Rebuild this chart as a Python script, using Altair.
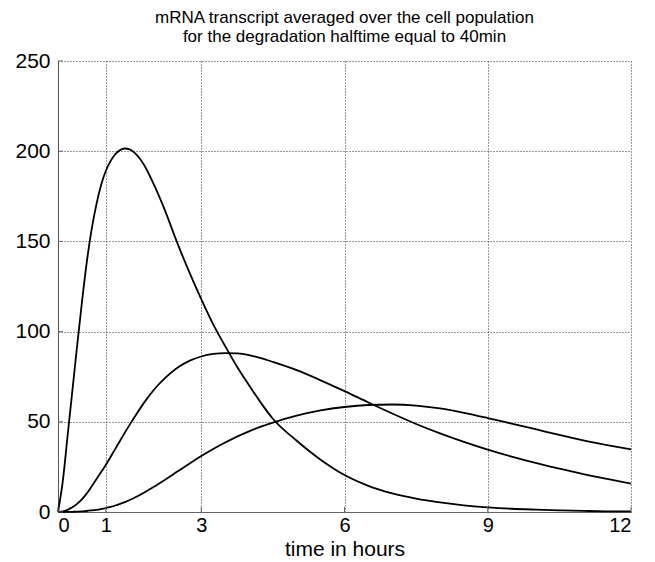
import altair as alt
import pandas as pd

# time grid (hours)
t_vals = [0, 0.1, 0.2, 0.3, 0.4, 0.5, 0.6, 0.7, 0.8, 0.9, 1.0, 1.1, 1.2, 1.3, 1.4,
          1.5, 1.6, 1.8, 2.0, 2.25, 2.5, 2.75, 3.0, 3.25, 3.5, 3.75, 4.0, 4.25,
          4.5, 5.0, 5.5, 6.0, 6.5, 7.0, 7.5, 8.0, 8.5, 9.0, 9.5, 10.0, 10.5,
          11.0, 11.5, 12.0]

# fast curve (high peak)
fast = [0, 17, 42, 67, 92, 116, 138, 156, 170, 181, 189, 194.5, 198.3, 200.6, 201.5,
        201, 199.2, 192.5, 182, 166.5, 149, 133, 118, 104, 92, 80.5, 70.3, 60.5,
        51.7, 39.5, 29, 20.5, 14.5, 10.3, 7.4, 5.3, 3.7, 2.6, 1.8, 1.3, 0.9,
        0.6, 0.4, 0.3]

# medium curve
medium = [0, 0.3, 1.2, 2.6, 4.5, 7, 10.2, 14, 18, 22, 26, 30.5, 35, 39.5, 44,
          48.3, 52.5, 60.5, 67.5, 74.5, 80, 83.8, 86.2, 87.6, 88.1, 87.9, 87, 85.3,
          83.2, 78.6, 73, 67, 60.7, 54.6, 48.8, 43.6, 38.9, 34.6, 30.7, 27.2, 24,
          21, 18.3, 15.7]

# slow curve
slow = [0, 0.01, 0.04, 0.1, 0.2, 0.35, 0.55, 0.85, 1.2, 1.65, 2.2, 2.85, 3.6, 4.5, 5.5,
        6.65, 7.9, 10.7, 13.8, 18.0, 22.4, 26.8, 31.0, 34.9, 38.5, 41.8, 44.7, 47.3,
        49.6, 53.4, 56.3, 58.2, 59.3, 59.6, 59.0, 57.4, 55.0, 52.1, 49.0, 45.9, 42.7,
        39.7, 37.1, 34.7]

x_ticks = [0, 1, 3, 6, 9, 12]
y_ticks = [0, 50, 100, 150, 200, 250]

rows = []
for name, vals in [("fast", fast), ("medium", medium), ("slow", slow)]:
    for t, v in zip(t_vals, vals):
        rows.append({"series": name, "t": t, "v": v})
df = pd.DataFrame(rows)

W, H = 573, 451
FONT = "Liberation Sans"

xscale = alt.Scale(domain=[0, 12], nice=False, zero=False)
yscale = alt.Scale(domain=[0, 250], nice=False, zero=False)

xaxis = alt.Axis(values=x_ticks, grid=True, gridDash=[1, 2], gridColor="#333",
                 gridOpacity=1, gridWidth=1, domainColor="#666", domainWidth=1,
                 ticks=False, labelFont=FONT, labelFontSize=20, labelColor="black",
                 labelPadding=3, titleFont=FONT, titleFontSize=21,
                 titleFontWeight="normal", titleColor="black",
                 titleBaseline="alphabetic", titleY=43)
yaxis = alt.Axis(values=y_ticks, grid=True, gridDash=[1, 2], gridColor="#333",
                 gridOpacity=1, gridWidth=1, domainColor="#555", domainWidth=1,
                 ticks=False, labelFont=FONT, labelFontSize=21, labelColor="black",
                 labelPadding=8, title=None)

X = alt.X("t:Q", scale=xscale, axis=xaxis, title="time in hours")
Y = alt.Y("v:Q", scale=yscale, axis=yaxis, title=None)

lines = alt.Chart(df).mark_line(interpolate="monotone", color="black",
                                strokeWidth=1.8).encode(
    x=X, y=Y, detail="series:N")

ytick_marks = alt.Chart(pd.DataFrame({"v": y_ticks})).mark_rule(
    color="#666", strokeWidth=1).encode(y=Y, x=alt.value(0), x2=alt.value(5))
xtick_marks = alt.Chart(pd.DataFrame({"t": x_ticks})).mark_rule(
    color="#666", strokeWidth=1).encode(x=X, y=alt.value(H), y2=alt.value(H - 5))

chart = alt.layer(lines, ytick_marks, xtick_marks).properties(
    width=W, height=H,
    title=alt.TitleParams(
        ["mRNA transcript averaged over the cell population",
         "for the degradation halftime equal to 40min"],
        font=FONT, fontSize=17, fontWeight="normal", color="black",
        anchor="middle", lineHeight=19, offset=4),
    padding={"left": 50, "top": 53, "right": 16, "bottom": 50},
    autosize=alt.AutoSizeParams(type="none"),
).configure_view(stroke=None)

chart.save("out.html", embed_options={"renderer": "svg", "actions": False})
